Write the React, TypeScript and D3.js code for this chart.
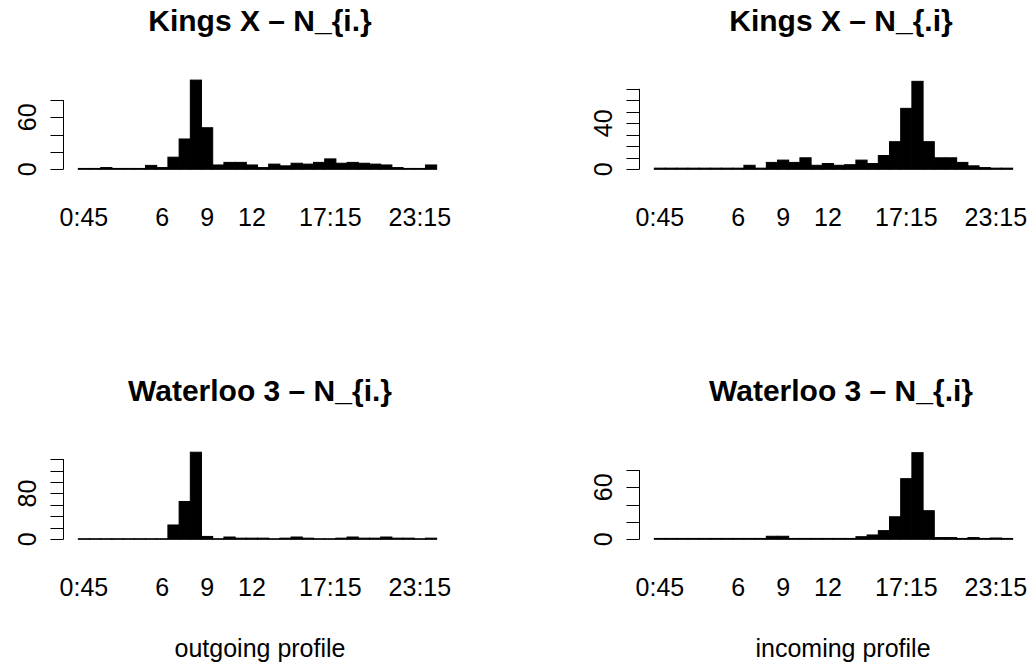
import React from "react";
import * as d3 from "d3";

const binLabels = ["0:45","1:30","2:15","3","3:45","4:30","5:15","6","6:45","7:30","8:15","9","9:45","10:30","11:15","12","12:45","13:30","14:15","15","15:45","16:30","17:15","18","18:45","19:30","20:15","21","21:45","22:30","23:15","24"];
const shownLabels = ["0:45","6","9","12","17:15","23:15"];

const kingsOut = [1,1,2,1,1,1,4.5,2,14,35,103,48,5,8,8,5,2,6,4,7,6,8,12,7,8,7,6,5,2,1,1,5];
const kingsIn = [1,1,1,1,1,1,1,1,3.5,1,6,8,6,10,3.5,5,3.5,4,8,5,12,24,53,76.5,24,10,10,6,3,1.5,1,1];
const waterOut = [1,1,1,1,1,1,1,1,25,66,152,5,1,4,2,2,2,1,2,4,2,1,1,2,4,2,2,4,2,2,1,2];
const waterIn = [1,1,1,1,1,1,1,1,1,1,3.5,3.5,1,1,1,1,1,1,3,5,10,26,70,100,33,2,2,1,2,1,1.5,1];

const kingsOutTicks = [0,20,40,60,80];
const kingsOutTickLabels = [0,60];
const kingsInTicks = [0,10,20,30,40,50,60,70];
const kingsInTickLabels = [0,40];
const waterOutTicks = [0,20,40,60,80,100,120,140];
const waterOutTickLabels = [0,80];
const waterInTicks = [0,20,40,60,80];
const waterInTickLabels = [0,60];

const titles = ["Kings X \u2013 N_{i.}", "Kings X \u2013 N_{.i}", "Waterloo 3 \u2013 N_{i.}", "Waterloo 3 \u2013 N_{.i}"];
const subtitles = ["outgoing profile", "incoming profile"];

const FONT = "'Liberation Sans', Arial, Helvetica, sans-serif";

type PanelSpec = {
  title: string;
  values: number[];
  ticks: number[];
  tickLabels: number[];
  yMax: number;
  plotLeft: number;
  plotRight: number;
  baseY: number;
  topY: number;
  titleX: number;
  titleY: number;
  xLabY: number;
};

function Panel({ p }: { p: PanelSpec }) {
  const n = p.values.length;
  const x = d3.scaleLinear().domain([-0.04 * n, n * 1.04]).range([p.plotLeft, p.plotRight]);
  const y = d3.scaleLinear().domain([0, p.yMax]).range([p.baseY, p.topY]);
  const axisX = p.plotLeft - 0.5;
  const tickLen = 13;
  return (
    <g>
      <text x={p.titleX} y={p.titleY} textAnchor="middle" fontFamily={FONT} fontWeight="bold" fontSize={30}>{p.title}</text>
      {p.values.map((v, i) => (
        <rect key={i} x={x(i)} y={y(v)} width={x(i + 1) - x(i)} height={y(0) - y(v)} fill="#000" stroke="#000" strokeWidth={1} />
      ))}
      <line x1={axisX} x2={axisX} y1={y(p.ticks[0])} y2={y(p.ticks[p.ticks.length - 1])} stroke="#000" strokeWidth={1} />
      {p.ticks.map((t) => (
        <line key={t} x1={axisX - tickLen} x2={axisX} y1={Math.round(y(t)) + 0.5} y2={Math.round(y(t)) + 0.5} stroke="#000" strokeWidth={1} />
      ))}
      {p.tickLabels.map((t) => (
        <text key={t} transform={`translate(${axisX - 28},${y(t)}) rotate(-90)`} textAnchor="middle" fontFamily={FONT} fontSize={25}>{t}</text>
      ))}
      {binLabels.map((lab, i) =>
        shownLabels.includes(lab) ? (
          <text key={lab} x={x(i + 0.5)} y={p.xLabY} textAnchor="middle" fontFamily={FONT} fontSize={25}>{lab}</text>
        ) : null
      )}
    </g>
  );
}

export default function App() {
  const panels: PanelSpec[] = [
    { title: titles[0], values: kingsOut, ticks: kingsOutTicks, tickLabels: kingsOutTickLabels, yMax: 100, plotLeft: 64, plotRight: 451, baseY: 169.3, topY: 82.7, titleX: 260, titleY: 31, xLabY: 225.5 },
    { title: titles[1], values: kingsIn, ticks: kingsInTicks, tickLabels: kingsInTickLabels, yMax: 70, plotLeft: 640, plotRight: 1027, baseY: 169.3, topY: 88.8, titleX: 841, titleY: 31, xLabY: 225.5 },
    { title: titles[2], values: waterOut, ticks: waterOutTicks, tickLabels: waterOutTickLabels, yMax: 140, plotLeft: 64, plotRight: 451, baseY: 539.3, topY: 459.1, titleX: 260, titleY: 401, xLabY: 596 },
    { title: titles[3], values: waterIn, ticks: waterInTicks, tickLabels: waterInTickLabels, yMax: 80, plotLeft: 640, plotRight: 1027, baseY: 539.3, topY: 470, titleX: 841, titleY: 401, xLabY: 596 },
  ];
  return (
    <svg width={1031} height={667} style={{ position: "absolute", left: 0, top: 0, background: "#fff" }}>
      <rect width={1031} height={667} fill="#fff" />
      {panels.map((p, i) => <Panel key={i} p={p} />)}
      <text x={260} y={657} textAnchor="middle" fontFamily={FONT} fontSize={25}>{subtitles[0]}</text>
      <text x={843} y={657} textAnchor="middle" fontFamily={FONT} fontSize={25}>{subtitles[1]}</text>
    </svg>
  );
}
